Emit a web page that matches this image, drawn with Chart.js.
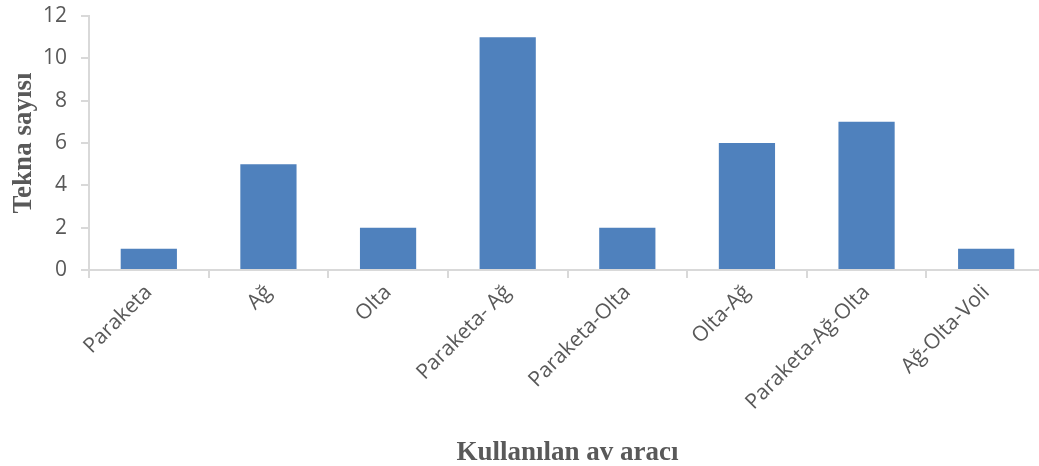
<!DOCTYPE html>
<html>
<head>
<meta charset="utf-8">
<script src="https://cdn.jsdelivr.net/npm/chart.js@4/dist/chart.umd.min.js"></script>
<style>
  html, body { margin: 0; padding: 0; background: #fff; overflow: hidden; }
  #wrap { position: absolute; left: 0; top: 0; width: 1046px; height: 466px; }
</style>
</head>
<body>
<div id="wrap"><canvas id="chart"></canvas></div>
<script>
const categories = ['Paraketa', 'Ağ', 'Olta', 'Paraketa- Ağ', 'Paraketa-Olta', 'Olta-Ağ', 'Paraketa-Ağ-Olta', 'Ağ-Olta-Voli'];
const teknaCounts = [1, 5, 2, 11, 2, 6, 7, 1];
const yTicks = [0, 2, 4, 6, 8, 10, 12];

const GRAY = '#595959';
const AXIS = '#d9d9d9';

new Chart(document.getElementById('chart'), {
  type: 'bar',
  data: {
    labels: categories,
    datasets: [{
      label: 'Tekna sayısı',
      data: teknaCounts,
      backgroundColor: '#4f81bd',
      barPercentage: 0.47,
      categoryPercentage: 1.0
    }]
  },
  options: {
    responsive: true,
    maintainAspectRatio: false,
    animation: false,
    layout: { padding: 0 },
    plugins: { legend: { display: false }, tooltip: { enabled: false } },
    scales: {
      x: {
        offset: true,
        afterFit: (axis) => { axis.height = 196; },
        grid: { offset: true, drawOnChartArea: false, color: AXIS, tickLength: 8, lineWidth: 2 },
        border: { color: AXIS, width: 2 },
        ticks: {
          color: GRAY, font: { family: 'Open Sans', size: 21 },
          maxRotation: 45, minRotation: 45, padding: 2
        },
        title: {
          display: true, text: 'Kullanılan av aracı', color: GRAY,
          font: { family: 'Liberation Serif', size: 27, weight: 'bold' },
          padding: { top: 8, bottom: -3 }
        }
      },
      y: {
        min: 0, max: 12,
        afterFit: (axis) => { axis.width = 89; axis.paddingTop = 16; },
        afterBuildTicks: (axis) => { axis.ticks = yTicks.map(v => ({ value: v })); },
        grid: { drawOnChartArea: false, color: AXIS, tickLength: 8, lineWidth: 2 },
        border: { color: AXIS, width: 2 },
        ticks: { color: GRAY, font: { family: 'Open Sans', size: 21 }, padding: 14 },
        title: {
          display: true, text: 'Tekna sayısı', color: GRAY,
          font: { family: 'Liberation Serif', size: 27, weight: 'bold' },
          padding: { top: 8, bottom: 0 }
        }
      }
    }
  }
});
</script>
</body>
</html>
